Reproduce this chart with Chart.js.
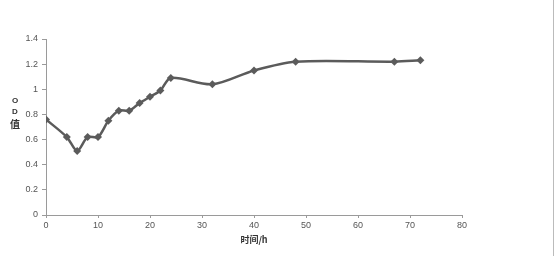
<!DOCTYPE html>
<html>
<head>
<meta charset="utf-8">
<script src="https://cdn.jsdelivr.net/npm/chart.js@4"></script>
<style>
  html, body { margin: 0; padding: 0; background: #fff; }
  #wrap { position: relative; width: 559px; height: 259px; }
  #wrap:after { content: ''; position: absolute; right: 5px; top: 0; bottom: 3px; border-right: 1px solid #bbb; }
</style>
</head>
<body>
<div id="wrap"><canvas id="od-chart" width="559" height="259"></canvas></div>
<script>
// sampling time (h) and OD readings
const hours = [0, 4, 6, 8, 10, 12, 14, 16, 18, 20, 22, 24, 32, 40, 48, 67, 72];
const odValues = [0.76, 0.62, 0.51, 0.62, 0.62, 0.75, 0.83, 0.83, 0.89, 0.94, 0.99, 1.09, 1.04, 1.15, 1.22, 1.22, 1.23];
const xTitle = '时间/h';
const yTitle = ['O', 'D', '值'];

const lineColor = '#5b5b5b';
const axisColor = '#9a9a9a';
const textColor = '#555';

// stacked vertical y title, like the Excel original
const yTitlePlugin = {
    id: 'yTitle',
    afterDraw(chart) {
        const ctx = chart.ctx;
        ctx.save();
        ctx.fillStyle = '#333';
        ctx.textAlign = 'center';
        ctx.textBaseline = 'middle';
        ctx.font = 'bold 8px "Liberation Sans", sans-serif';
        ctx.fillText(yTitle[0], 15, 101);
        ctx.fillText(yTitle[1], 15, 112);
        ctx.font = 'bold 10px "Noto Sans CJK SC", sans-serif';
        ctx.fillText(yTitle[2], 15, 124);
        ctx.restore();
    }
};

const ctx = document.getElementById('od-chart').getContext('2d');
const chart = new Chart(ctx, {
    type: 'line',
    data: {
        datasets: [{
            data: hours.map((h, i) => ({ x: h, y: odValues[i] })),
            borderColor: lineColor,
            backgroundColor: lineColor,
            borderWidth: 2.5,
            pointStyle: 'rectRot',
            pointRadius: 4,
            pointBorderWidth: 0,
            tension: 0.3,
            fill: false
        }]
    },
    options: {
        responsive: false,
        animation: false,
        layout: { padding: { top: 39, right: 97, left: 0, bottom: 10 } },
        plugins: { legend: { display: false }, tooltip: { enabled: false } },
        scales: {
            x: {
                type: 'linear',
                min: 0,
                max: 80,
                afterFit(scale) { scale.height = 34; },
                ticks: {
                    stepSize: 10,
                    color: textColor,
                    font: { family: '"Liberation Sans", sans-serif', size: 9 },
                    padding: 2,
                    maxRotation: 0
                },
                grid: { drawOnChartArea: false, color: axisColor, tickLength: 3 },
                border: { color: axisColor, width: 1 },
                title: {
                    display: true,
                    text: xTitle,
                    color: '#333',
                    font: { family: '"Noto Sans CJK SC", sans-serif', size: 9, weight: 'bold' },
                    padding: { top: 0 }
                }
            },
            y: {
                min: 0,
                max: 1.4,
                afterFit(scale) { scale.width = 46; },
                ticks: {
                    stepSize: 0.2,
                    color: textColor,
                    font: { family: '"Liberation Sans", sans-serif', size: 9 },
                    padding: 4,
                    callback: v => String(+v.toFixed(1))
                },
                grid: { drawOnChartArea: false, color: axisColor, tickLength: 4 },
                border: { color: axisColor, width: 1 }
            }
        }
    },
    plugins: [yTitlePlugin]
});
</script>
</body>
</html>
